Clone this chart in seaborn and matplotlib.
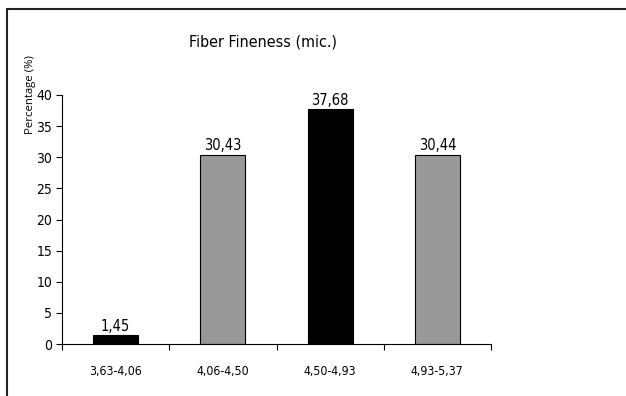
import matplotlib
matplotlib.use('Agg')
import matplotlib.pyplot as plt
from matplotlib.lines import Line2D
import seaborn as sns
import pandas as pd

sns.set_style('white')
plt.rcParams['font.family'] = ['DejaVu Sans']
plt.rcParams['font.stretch'] = 'condensed'
plt.rcParams['text.color'] = 'black'
plt.rcParams['xtick.color'] = 'black'
plt.rcParams['ytick.color'] = 'black'

# data
ranges = ['3,63-4,06', '4,06-4,50', '4,50-4,93', '4,93-5,37']
percent = [1.45, 30.43, 37.68, 30.44]
bar_colors = ['#000000', '#999999', '#000000', '#999999']
yticks = [0, 5, 10, 15, 20, 25, 30, 35, 40]

df = pd.DataFrame({'range': ranges, 'pct': percent})

fig = plt.figure(figsize=(6.26, 3.96), dpi=100)
ax = fig.add_axes([62/626, 1-344/396, (491-62)/626, (344-95)/396])

sns.barplot(data=df, x='range', y='pct', hue='range', palette=bar_colors,
            edgecolor='black', linewidth=0.8, width=0.42, legend=False, ax=ax)

for cont in ax.containers:
    ax.bar_label(cont, labels=[f'{v:.2f}'.replace('.', ',') for v in cont.datavalues],
                 padding=1, fontsize=10.5, color='black')

ax.set_xlim(-0.5, 3.5)
ax.set_ylim(0, 40)
ax.set_yticks(yticks)
ax.tick_params(axis='y', direction='out', length=4, width=0.8, labelsize=10, pad=3, left=True)
ax.tick_params(axis='x', which='major', length=0, labelsize=8.8, pad=15)
ax.set_xticks([-0.5, 0.5, 1.5, 2.5, 3.5], minor=True)
ax.tick_params(axis='x', which='minor', direction='out', length=4, width=0.8, bottom=True)
ax.set_xlabel('')
ax.set_ylabel('')

for s in ['top', 'right']:
    ax.spines[s].set_visible(False)
for s in ['left', 'bottom']:
    ax.spines[s].set_color('black')
    ax.spines[s].set_linewidth(0.8)

fig.text(263/626, 1-42/396, 'Fiber Fineness (mic.)', ha='center', va='center', fontsize=11.5)
fig.text(30/626, 1-95/396, 'Percentage (%)', ha='center', va='center', rotation=90,
         fontsize=8.2, family=['Open Sans', 'DejaVu Sans'], fontstretch='normal')

# outer frame (chart area border, cut off at right and bottom)
fig.add_artist(Line2D([7/626, 7/626], [0, 1-9/396], transform=fig.transFigure, color='#222222', lw=1.5))
fig.add_artist(Line2D([7/626, 1], [1-9/396, 1-9/396], transform=fig.transFigure, color='#222222', lw=1.5))

fig.savefig('out.png', dpi=100)
